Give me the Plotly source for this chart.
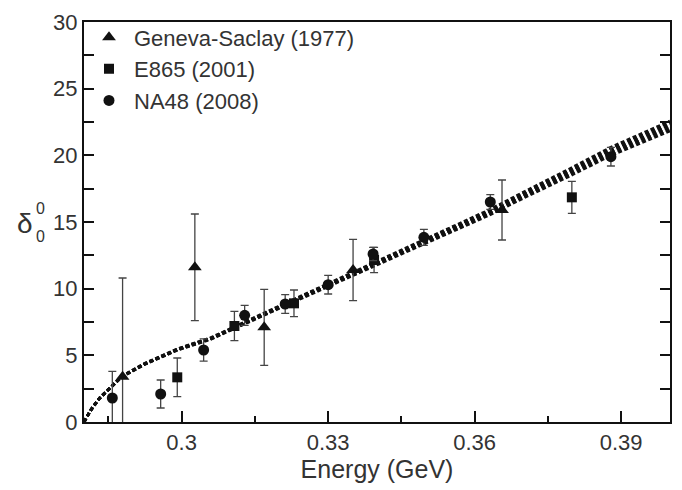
import plotly.graph_objects as go

# Geneva-Saclay (1977)
gs_energy = [0.2879, 0.3027, 0.3169, 0.3351, 0.3656]
gs_delta = [3.4, 11.6, 7.1, 11.4, 15.9]
gs_err = [7.4, 4.0, 2.85, 2.3, 2.25]

# E865 (2001)
e865_energy = [0.2991, 0.3108, 0.3230, 0.3394, 0.3799]
e865_delta = [3.35, 7.2, 8.9, 12.15, 16.85]
e865_err = [1.45, 1.1, 1.0, 0.95, 1.2]

# NA48 (2008)
na48_energy = [0.2858, 0.2957, 0.3045, 0.3129, 0.3212, 0.3300, 0.3392, 0.3496, 0.3632, 0.3879]
na48_delta = [1.8, 2.1, 5.4, 8.0, 8.85, 10.3, 12.6, 13.85, 16.5, 19.9]
na48_err = [2.0, 1.05, 0.83, 0.75, 0.7, 0.7, 0.5, 0.6, 0.55, 0.7]

# theory band: central curve and its half-width
band_energy = [0.2800, 0.2814, 0.2831, 0.2848, 0.2877, 0.2924, 0.2992, 0.3060, 0.3128,
               0.3210, 0.3300, 0.3350, 0.3420, 0.3490, 0.3560, 0.3629, 0.3710, 0.3792,
               0.3879, 0.3976, 0.4000]
band_delta = [0.0, 0.9, 1.75, 2.37, 3.4, 4.35, 5.45, 6.27, 7.43,
              8.78, 10.27, 11.1, 12.25, 13.4, 14.55, 15.7, 17.2, 18.67,
              20.3, 21.87, 22.2]
band_half = [0.0, 0.0, 0.0, 0.0, 0.02, 0.03, 0.04, 0.05, 0.06,
             0.08, 0.1, 0.11, 0.13, 0.15, 0.17, 0.19, 0.22, 0.26,
             0.3, 0.35, 0.36]

x_major = [0.3, 0.33, 0.36, 0.39]
x_minor = [0.285, 0.315, 0.345, 0.375]
y_ticks = [0, 2.5, 5, 7.5, 10, 12.5, 15, 17.5, 20, 22.5, 25, 27.5, 30]

FONT = "Liberation Sans, Arial, sans-serif"
INK = "#111111"
GREY = "#333333"

fig = go.Figure()

# band drawn as a bundle of parallel dashed curves
for k in [-1.0, -0.5, 0.0, 0.5, 1.0]:
    fig.add_trace(go.Scatter(
        x=band_energy,
        y=[d + k * h for d, h in zip(band_delta, band_half)],
        mode="lines",
        line=dict(color=INK, width=3, dash="4px,2.5px"),
        showlegend=False, hoverinfo="skip",
    ))

err_style = dict(type="data", symmetric=True, color="#444444", thickness=1.3, width=4)

fig.add_trace(go.Scatter(
    x=gs_energy, y=gs_delta, mode="markers", name="Geneva-Saclay (1977)",
    marker=dict(symbol="triangle-up", size=12, color=INK),
    error_y=dict(array=gs_err, **err_style),
))
fig.add_trace(go.Scatter(
    x=e865_energy, y=e865_delta, mode="markers", name="E865 (2001)",
    marker=dict(symbol="square", size=10, color=INK),
    error_y=dict(array=e865_err, **err_style),
))
fig.add_trace(go.Scatter(
    x=na48_energy, y=na48_delta, mode="markers", name="NA48 (2008)",
    marker=dict(symbol="circle", size=11, color=INK),
    error_y=dict(array=na48_err, **err_style),
))

L, R, T, B = 84, 10, 17, 68
W, H = 682, 490
pw, ph = W - L - R, H - T - B

def px_x(p):
    return (p - L) / pw

def px_y(p):
    return (H - B - p) / ph

# y-axis label: delta with stacked sub/superscript
fig.add_annotation(text="δ", x=px_x(34), y=px_y(221), xref="paper", yref="paper",
                   xanchor="right", showarrow=False, borderpad=0,
                   font=dict(family=FONT, size=28, color=GREY))
fig.add_annotation(text="0", x=px_x(35), y=px_y(206), xref="paper", yref="paper",
                   xanchor="left", showarrow=False, borderpad=0,
                   font=dict(family=FONT, size=16, color=GREY))
fig.add_annotation(text="0", x=px_x(35), y=px_y(234), xref="paper", yref="paper",
                   xanchor="left", showarrow=False, borderpad=0,
                   font=dict(family=FONT, size=16, color=GREY))

fig.update_layout(
    width=W, height=H,
    margin=dict(l=L, r=R, t=T, b=B),
    paper_bgcolor="white", plot_bgcolor="white",
    font=dict(family=FONT, size=22, color=GREY),
    legend=dict(x=0.0, y=1.014, xanchor="left", yanchor="top",
                bgcolor="rgba(0,0,0,0)", font=dict(size=22, color=GREY),
                itemwidth=40, tracegroupgap=0),
    xaxis=dict(
        range=[0.28, 0.4], showgrid=False, zeroline=False,
        showline=True, linecolor=INK, linewidth=2, mirror=True,
        ticks="inside", ticklen=11, tickwidth=1.5, tickcolor=INK,
        tickvals=x_major, ticktext=[f"{v:g}" for v in x_major],
        minor=dict(tickvals=x_minor, ticks="inside", ticklen=6, tickwidth=1.5, tickcolor=INK),
        title=dict(text="Energy (GeV)", font=dict(size=25, color=GREY), standoff=6),
    ),
    yaxis=dict(
        range=[0, 30], showgrid=False, zeroline=False,
        showline=True, linecolor=INK, linewidth=2, mirror="ticks",
        ticks="inside", ticklen=10, tickwidth=1.5, tickcolor=INK,
        tickvals=y_ticks,
        ticktext=[f"{v:g}" if v % 5 == 0 else "" for v in y_ticks],
    ),
)

fig.write_html("out.html")
